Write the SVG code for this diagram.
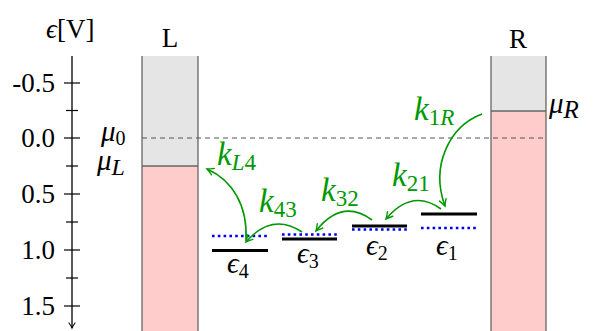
<svg xmlns="http://www.w3.org/2000/svg" width="593" height="331" viewBox="0 0 593 331">
<defs>
<marker id="ga" viewBox="-8 -5 10 10" markerWidth="10" markerHeight="10" refX="0" refY="0" orient="auto" markerUnits="userSpaceOnUse">
<path d="M-6.5,-3.5 Q-2.5,-1 0,0 Q-2.5,1 -6.5,3.5" fill="none" stroke="#009900" stroke-width="1.4" stroke-linecap="round"/>
</marker>
<marker id="ka" viewBox="-8 -5 10 10" markerWidth="10" markerHeight="10" refX="0" refY="0" orient="auto" markerUnits="userSpaceOnUse">
<path d="M-5,-3 Q-2,-0.8 0,0 Q-2,0.8 -5,3" fill="none" stroke="#000" stroke-width="1.1" stroke-linecap="round"/>
</marker>
</defs>
<style>
.t{font-family:"Liberation Serif","DejaVu Serif",serif;font-size:27px;fill:#000}
.m{font-family:"Liberation Serif","DejaVu Serif",serif;font-style:italic;font-size:29px}
.s{font-size:20px}
.k{font-size:33px}
.ks{font-size:23px}
.g{fill:#009900}
.box{stroke:#666;stroke-width:1.3}
.lev{stroke:#000;stroke-width:3}
.dot{stroke:#0000ee;stroke-width:2.6;stroke-dasharray:2.6 3.2}
.arr{fill:none;stroke:#009900;stroke-width:1.6;marker-end:url(#ga)}
.tick{stroke:#000;stroke-width:1.2}
</style>

<g id="axis">
<line x1="72" y1="56" x2="72" y2="328" stroke="#000" stroke-width="1.3" marker-end="url(#ka)"/>
<g class="tick">
<line x1="64" y1="83" x2="80" y2="83"/>
<line x1="66" y1="110.5" x2="78" y2="110.5"/>
<line x1="64" y1="138" x2="80" y2="138"/>
<line x1="66" y1="166" x2="78" y2="166"/>
<line x1="64" y1="194" x2="80" y2="194"/>
<line x1="66" y1="222" x2="78" y2="222"/>
<line x1="64" y1="250" x2="80" y2="250"/>
<line x1="66" y1="278" x2="78" y2="278"/>
<line x1="64" y1="306" x2="80" y2="306"/>
</g>
<g class="t" text-anchor="end">
<text x="55" y="92">-0.5</text>
<text x="55" y="147">0.0</text>
<text x="55" y="203">0.5</text>
<text x="55" y="259">1.0</text>
<text x="55" y="315">1.5</text>
</g>
<text class="t" x="46" y="38" font-size="31"><tspan font-style="italic">ϵ</tspan>[V]</text>
</g>

<g id="lead-L">
<rect x="142" y="56" width="56" height="110" fill="#e5e5e5"/>
<rect x="142" y="166" width="56" height="170" fill="#ffcccc"/>
<line class="box" x1="142" y1="56" x2="142" y2="331"/>
<line class="box" x1="198" y1="56" x2="198" y2="331"/>
<line class="box" x1="142" y1="166" x2="198" y2="166"/>
<text class="t" x="170" y="47" text-anchor="middle" font-size="29">L</text>
<text class="m" x="97" y="170">μ<tspan font-size="24px" dy="5">L</tspan></text>
</g>

<g id="lead-R">
<rect x="491" y="56" width="55" height="55" fill="#e5e5e5"/>
<rect x="491" y="111" width="55" height="225" fill="#ffcccc"/>
<line class="box" x1="491" y1="56" x2="491" y2="331"/>
<line class="box" x1="546" y1="56" x2="546" y2="331"/>
<line class="box" x1="491" y1="111" x2="546" y2="111"/>
<text class="t" x="518" y="48" text-anchor="middle" font-size="29">R</text>
<text class="m" x="549" y="113">μ<tspan font-size="25px" dy="5">R</tspan></text>
</g>

<g id="mu0">
<line x1="142" y1="138" x2="546" y2="138" stroke="#555" stroke-width="1.2" stroke-dasharray="5 4"/>
<text class="m" x="101" y="141">μ<tspan class="s" font-style="normal" dy="4">0</tspan></text>
</g>

<g id="level-4">
<line class="dot" x1="212" y1="236" x2="268" y2="236"/>
<line class="lev" x1="212" y1="250.5" x2="268" y2="250.5"/>
<text class="m" x="227" y="273">ϵ<tspan class="s" font-style="normal" dy="5">4</tspan></text>
</g>
<g id="level-3">
<line class="dot" x1="282" y1="234.5" x2="337" y2="234.5"/>
<line class="lev" x1="282" y1="239" x2="337" y2="239"/>
<text class="m" x="297" y="263">ϵ<tspan class="s" font-style="normal" dy="5">3</tspan></text>
</g>
<g id="level-2">
<line class="dot" x1="352" y1="229.5" x2="407" y2="229.5"/>
<line class="lev" x1="352" y1="226" x2="407" y2="226"/>
<text class="m" x="366" y="255">ϵ<tspan class="s" font-style="normal" dy="5">2</tspan></text>
</g>
<g id="level-1">
<line class="dot" x1="421" y1="228" x2="477" y2="228"/>
<line class="lev" x1="421" y1="214" x2="477" y2="214"/>
<text class="m" x="436" y="255">ϵ<tspan class="s" font-style="normal" dy="5">1</tspan></text>
</g>

<g id="connectors">
<path class="arr" d="M482,114 C450,126 430,165 445,206"/>
<path class="arr" d="M441,209 Q412,188 386,219"/>
<path class="arr" d="M372,220 Q342,198 316,231"/>
<path class="arr" d="M302,232 Q272,212 246,242"/>
<path class="arr" d="M246,241 C248,205 232,180 207,169"/>
</g>

<g id="rate-labels" class="m k g">
<text x="217" y="165">k<tspan class="ks" dy="5">L</tspan><tspan class="ks" font-style="normal">4</tspan></text>
<text x="259" y="212">k<tspan class="ks" font-style="normal" dy="5">43</tspan></text>
<text x="321" y="201">k<tspan class="ks" font-style="normal" dy="5">32</tspan></text>
<text x="392" y="186">k<tspan class="ks" font-style="normal" dy="5">21</tspan></text>
<text x="414" y="120">k<tspan class="ks" font-style="normal" dy="5">1</tspan><tspan class="ks">R</tspan></text>
</g>
</svg>
